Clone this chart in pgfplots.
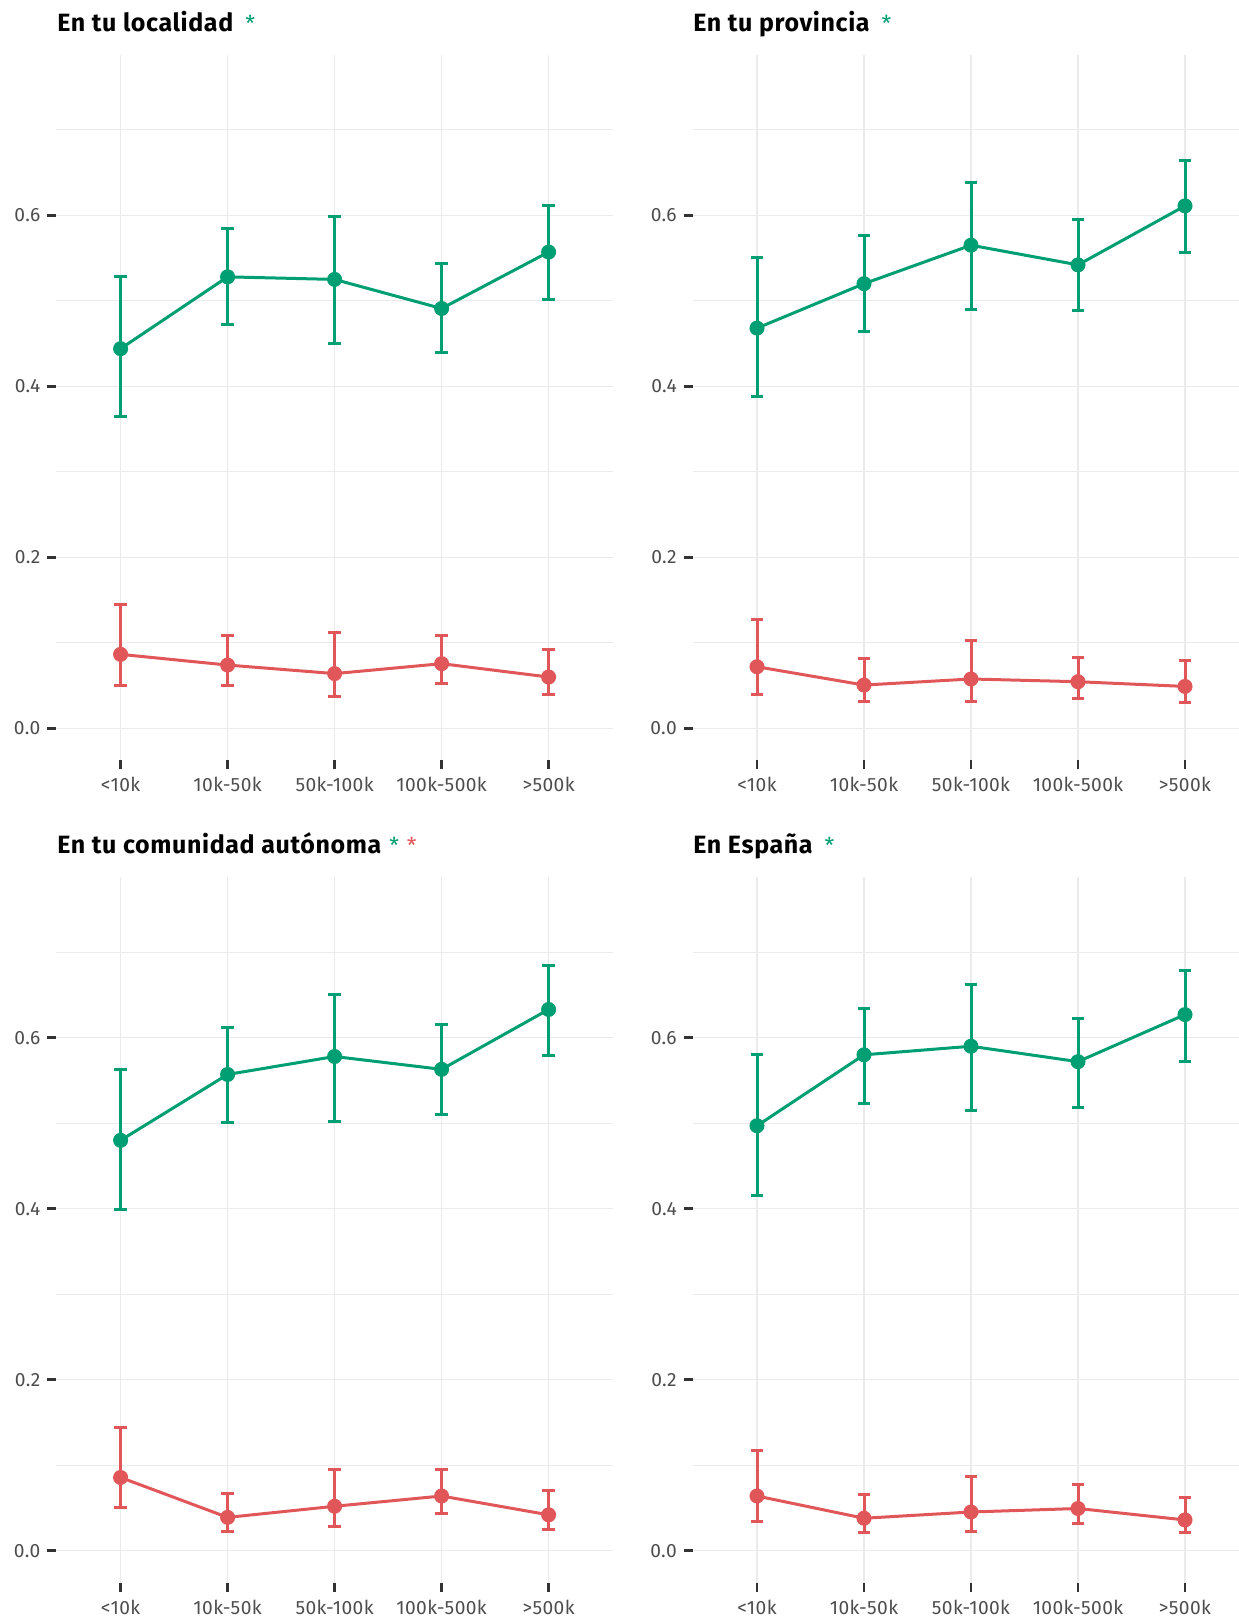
\documentclass[border=0pt]{standalone}
\usepackage{fontspec}
\usepackage{pgfplots}
\usepackage{pgfplotstable}
\pgfplotsset{compat=1.18}
\setmainfont{Fira Sans}

\definecolor{cgreen}{HTML}{009E73}
\definecolor{cred}{HTML}{E15759}
\definecolor{gridc}{HTML}{EBEBEB}
\definecolor{tickc}{HTML}{333333}
\definecolor{labc}{HTML}{4D4D4D}

% x: category, g*: green series (estimate, lower, upper), r*: red series
\pgfplotstableread{
x gy    glo   ghi   ry     rlo   rhi
1 0.444 0.365 0.528 0.0865 0.050 0.145
2 0.528 0.472 0.584 0.074  0.050 0.109
3 0.525 0.450 0.599 0.064  0.037 0.112
4 0.491 0.439 0.544 0.0756 0.052 0.108
5 0.557 0.502 0.611 0.060  0.039 0.0916
}\localidad
\pgfplotstableread{
x gy    glo   ghi   ry     rlo   rhi
1 0.468 0.388 0.551 0.072  0.039 0.127
2 0.520 0.464 0.576 0.0506 0.031 0.082
3 0.565 0.490 0.638 0.0577 0.031 0.1025
4 0.542 0.489 0.595 0.0545 0.035 0.0834
5 0.611 0.557 0.664 0.049  0.030 0.079
}\provincia
\pgfplotstableread{
x gy    glo   ghi   ry     rlo   rhi
1 0.480 0.399 0.563 0.0857 0.050 0.144
2 0.557 0.501 0.612 0.039  0.022 0.067
3 0.578 0.502 0.6505 0.052 0.028 0.0955
4 0.563 0.5105 0.615 0.064 0.043 0.0955
5 0.633 0.579 0.685 0.042  0.025 0.071
}\comunidad
\pgfplotstableread{
x gy    glo   ghi   ry     rlo   rhi
1 0.497 0.415 0.580 0.064  0.0343 0.117
2 0.580 0.523 0.634 0.038  0.0214 0.0655
3 0.590 0.515 0.6625 0.0453 0.0228 0.0868
4 0.572 0.518 0.623 0.0494 0.032 0.078
5 0.627 0.5725 0.679 0.036 0.021 0.0623
}\espana

\pgfplotsset{
  panel/.style={
    scale only axis, width=278.2pt, height=352.7pt,
    anchor=south west,
    xmin=0.4, xmax=5.6, ymin=-0.0375, ymax=0.7875,
    xtick={1,2,3,4,5},
    xticklabels={<10k,10k-50k,50k-100k,100k-500k,>500k},
    ytick={0,0.2,0.4,0.6},
    minor ytick={0.1,0.3,0.5,0.7},
    /pgf/number format/assume math mode=true,
    /pgf/number format/.cd, fixed, fixed zerofill, precision=1, /pgfplots/.cd,
    axis line style={draw=none},
    tick pos=left, tick align=outside,
    major tick length=4.5pt, minor tick length=0pt,
    major tick style={tickc, line width=1.4pt},
    xmajorgrids, ymajorgrids, yminorgrids,
    major grid style={gridc, line width=0.65pt},
    minor grid style={gridc, line width=0.5pt},
    ticklabel style={font=\fontsize{9.6}{10}\selectfont\addfontfeatures{LetterSpace=2}, text=labc},
    yticklabel style={xshift=0pt},
    xticklabel style={yshift=-0.5pt},
    clip=false,
  },
  est/.style={#1, line width=1.5pt, mark=*, mark size=3pt,
    error bars/.cd, y dir=both, y explicit, error mark=|,
    error bar style={#1, line width=1.5pt},
    error mark options={#1, mark size=3.1pt, line width=1.5pt,
      every mark/.append style={line width=1.5pt}}},
}

\newcommand{\panelplots}[1]{%
  \addplot[est=cgreen] table[x=x, y=gy,
    y error plus expr=\thisrow{ghi}-\thisrow{gy},
    y error minus expr=\thisrow{gy}-\thisrow{glo}] {#1};
  \addplot[est=cred] table[x=x, y=ry,
    y error plus expr=\thisrow{rhi}-\thisrow{ry},
    y error minus expr=\thisrow{ry}-\thisrow{rlo}] {#1};
}

\newcommand{\ttl}[1]{{\fontsize{12.5}{14}\selectfont\bfseries\addfontfeatures{LetterSpace=2.5}#1}}
\newcommand{\astk}[1]{{\fontsize{11}{12}\selectfont\mdseries\textcolor{#1}{*}}}

\begin{document}
\begin{tikzpicture}
\begin{axis}[panel, at={(28.2pt,427.8pt)}]
  \panelplots{\localidad}
\end{axis}
\begin{axis}[panel, at={(346.4pt,427.8pt)}]
  \panelplots{\provincia}
\end{axis}
\begin{axis}[panel, at={(28.2pt,16.6pt)}]
  \panelplots{\comunidad}
\end{axis}
\begin{axis}[panel, at={(346.4pt,16.6pt)}]
  \panelplots{\espana}
\end{axis}

\node[anchor=base west, inner sep=0pt] at (28.5pt,792pt)
  {\ttl{En tu localidad}\hspace{6pt}\astk{cgreen}};
\node[anchor=base west, inner sep=0pt] at (346.5pt,792pt)
  {\ttl{En tu provincia}\hspace{6pt}\astk{cgreen}};
\node[anchor=base west, inner sep=0pt] at (28.5pt,381pt)
  {\ttl{En tu comunidad autónoma}\hspace{4pt}\astk{cgreen}\hspace{4pt}\astk{cred}};
\node[anchor=base west, inner sep=0pt] at (346.5pt,381pt)
  {\ttl{En España}\hspace{6pt}\astk{cgreen}};

\pgfresetboundingbox
\useasboundingbox (0,0) rectangle (619pt,808pt);
\end{tikzpicture}
\end{document}
